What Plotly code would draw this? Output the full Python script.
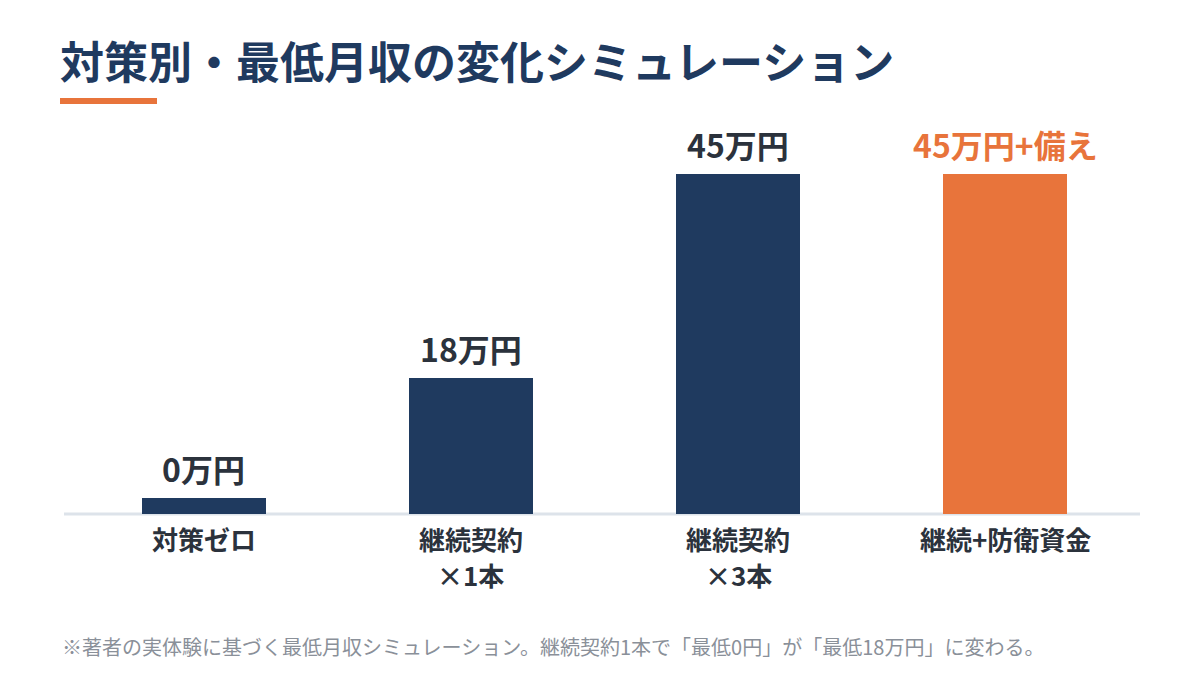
import plotly.graph_objects as go

# ---- data ----
categories = ["対策ゼロ", "継続契約\n×1本", "継続契約\n×3本", "継続+防衛資金"]
values = [0, 18, 45, 45]                      # 最低月収（万円）
value_labels = ["0万円", "18万円", "45万円", "45万円+備え"]
highlight = [False, False, False, True]
stub = 2.1                                     # minimal visible height for zero bar

title_text = "対策別・最低月収の変化シミュレーション"
footnote_text = "※著者の実体験に基づく最低月収シミュレーション。継続契約1本で「最低0円」が「最低18万円」に変わる。"

NAVY = "#1f3a5f"
ORANGE = "#e8743b"
TEXT = "#2b323c"
GRAY = "#8a9099"
LINE = "#dde3ea"
FONT = "Noto Sans CJK JP"

W, H = 1200, 680
plotted = [max(v, stub) for v in values]
colors = [ORANGE if h else NAVY for h in highlight]
xs = list(range(len(categories)))

fig = go.Figure()
fig.add_trace(go.Bar(
    x=xs, y=plotted, marker=dict(color=colors, line=dict(width=0)),
    width=0.464, hoverinfo="skip", showlegend=False,
))

# plot area geometry (paper fractions)
x_left, x_right = 70 / W, 1139 / W
y_base, y_top = (H - 514) / H, (H - 174) / H

fig.update_layout(
    width=W, height=H,
    margin=dict(l=0, r=0, t=0, b=0),
    paper_bgcolor="white", plot_bgcolor="white",
    xaxis=dict(domain=[x_left, x_right], range=[-0.5, len(categories) - 0.5],
               visible=False, fixedrange=True),
    yaxis=dict(domain=[y_base, y_top], range=[0, max(values)],
               visible=False, fixedrange=True),
    bargap=0,
)

# baseline
fig.add_shape(type="line", xref="paper", yref="paper",
              x0=64 / W, x1=1140 / W, y0=y_base, y1=y_base,
              line=dict(color=LINE, width=3), layer="below")

# value labels above bars
for i, (v, lab) in enumerate(zip(plotted, value_labels)):
    fig.add_annotation(x=i, y=v, xref="x", yref="y", text=lab,
                       showarrow=False, yanchor="bottom", yshift=5,
                       font=dict(family=FONT, size=32, weight="bold",
                                 color=ORANGE if highlight[i] else TEXT))

# category labels
for i, cat in enumerate(categories):
    for j, line in enumerate(cat.split("\n")):
        fig.add_annotation(x=i, xref="x", yref="paper",
                           y=(H - (538 + 36 * j)) / H, yanchor="middle",
                           text=line, showarrow=False,
                           font=dict(family=FONT, size=26, weight="bold", color=TEXT))

# title
fig.add_annotation(x=58 / W, y=(H - 60) / H, xref="paper", yref="paper",
                   xanchor="left", yanchor="middle", text=title_text, showarrow=False,
                   font=dict(family=FONT, size=44, weight="bold", color=NAVY))
# title underline
fig.add_shape(type="rect", xref="paper", yref="paper",
              x0=60 / W, x1=157 / W, y0=(H - 104) / H, y1=(H - 98) / H,
              fillcolor=ORANGE, line=dict(width=0))

# footnote
fig.add_annotation(x=60 / W, y=(H - 646) / H, xref="paper", yref="paper",
                   xanchor="left", yanchor="middle", text=footnote_text, showarrow=False,
                   font=dict(family=FONT, size=20, color=GRAY))

fig.write_html("out.html", config={"displayModeBar": False})
